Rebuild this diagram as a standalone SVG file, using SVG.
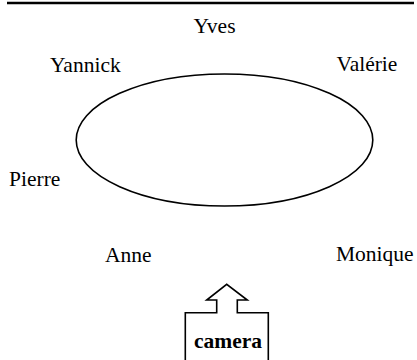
<svg xmlns="http://www.w3.org/2000/svg" width="417" height="360" viewBox="0 0 417 360">
<style>
text{font-family:"Liberation Serif","Times New Roman",serif;font-size:21.5px;fill:#000}
.shape{fill:none;stroke:#000;stroke-width:1.6}
</style>
<rect width="417" height="360" fill="#fff"/>
<line x1="7" y1="3" x2="414" y2="3" stroke="#000" stroke-width="2.5"/>
<g id="table"><ellipse class="shape" cx="224.5" cy="140" rx="148.3" ry="66"/></g>
<g id="yves"><text x="214.5" y="33" text-anchor="middle">Yves</text></g>
<g id="yannick"><text x="50" y="71.5">Yannick</text></g>
<g id="valerie"><text x="336.5" y="71">Valérie</text></g>
<g id="pierre"><text x="9" y="185.5">Pierre</text></g>
<g id="anne"><text x="105" y="261.5">Anne</text></g>
<g id="monique"><text x="336" y="261">Monique</text></g>
<g id="camera">
<path class="shape" d="M185.3,360 V312.7 H216.7 V300 H206.7 L226.7,284.3 L247.3,300 H237.3 V312.7 H268.3 V360"/>
<text x="228" y="347.5" text-anchor="middle" font-weight="bold">camera</text>
</g>
</svg>
